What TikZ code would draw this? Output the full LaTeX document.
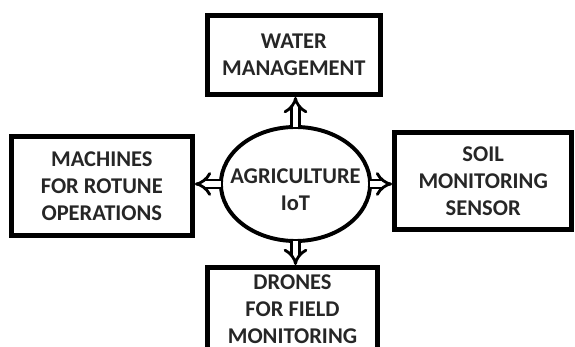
\documentclass[tikz,border=0pt]{standalone}
\usepackage{fontspec}
\setmainfont{Carlito}
\usetikzlibrary{positioning,shapes.geometric,arrows.meta}

\begin{document}
\begin{tikzpicture}[x=0.025cm, y=-0.025cm,
    box/.style={draw, line width=3.5pt, align=center, font=\fontsize{16}{19.2}\selectfont\bfseries, text=black!85},
    flow/.style={draw, line width=2pt, double, double distance=3.6pt, -{Implies}, shorten <=-1.5pt}]

\useasboundingbox (0,0) rectangle (575,347);
\clip (0,0) rectangle (575,347);

% ======================================
% THE HUB
% ======================================
\node[ellipse, draw, line width=2.8pt, minimum width=3.73cm, minimum height=2.85cm,
      label={[box, draw=none, yshift=-0.15cm]center:AGRICULTURE\\IoT}] (iot) at (295.5,184) {};

% ======================================
% THE FOUR BOXES
% ======================================
\node[box, minimum width=4.33cm, minimum height=1.98cm, above=0.7cm of iot, xshift=-0.04cm] (wm) {WATER\\MANAGEMENT};
\node[box, minimum width=4.53cm, minimum height=2.48cm, left=0.6cm of iot, yshift=-0.05cm] (mro) {MACHINES\\FOR ROTUNE\\OPERATIONS};
\node[box, minimum width=4.43cm, minimum height=2.43cm, right=0.5cm of iot, yshift=0.075cm] (sms) {SOIL\\MONITORING\\SENSOR};
\node[box, minimum width=4.25cm, minimum height=2.08cm, below=0.55cm of iot, xshift=-0.075cm] (dfm) {DRONES\\FOR FIELD\\MONITORING};

% ======================================
% ARROWS
% ======================================
\draw[flow] (iot.north) -- (iot.north |- wm.south);
\draw[flow] (iot.south) -- (iot.south |- dfm.north);
\draw[flow] (iot.west) -- (iot.west -| mro.east);
\draw[flow] (iot.east) -- (iot.east -| sms.west);

\end{tikzpicture}
\end{document}
